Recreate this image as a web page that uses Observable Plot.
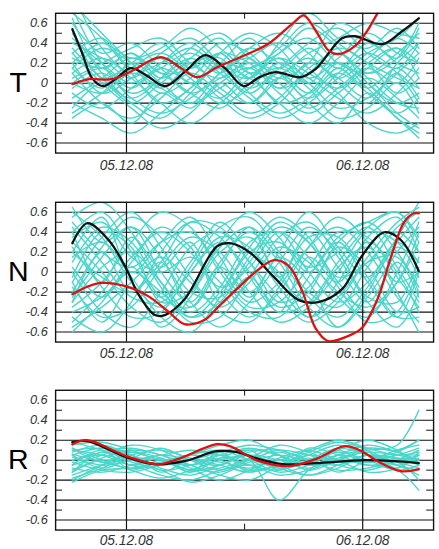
<!DOCTYPE html>
<html><head><meta charset="utf-8">
<script src="https://cdn.jsdelivr.net/npm/d3@7"></script>
<script src="https://cdn.jsdelivr.net/npm/@observablehq/plot@0.6"></script>
<style>
html,body{margin:0;padding:0;background:#fff;overflow:hidden;width:439px;height:549px;}
.panel{position:absolute;left:0;}
</style></head><body>
<div id="pT" class="panel" style="top:0px"></div>
<div id="pN" class="panel" style="top:189px"></div>
<div id="pR" class="panel" style="top:377px"></div>
<script>
// ---- data ----
const panelNames = ["T", "N", "R"];
const dateTicks = ["05.12.08", "06.12.08"];     // day ticks (hours 0 and 24)
const yTicks = [-0.6, -0.4, -0.2, 0, 0.2, 0.4, 0.6];
const yMinor = [-0.5, -0.3, -0.1, 0.1, 0.3, 0.5];
const xMinorHours = [12];
// ensemble sample times, hours after 05.12.08 00:00
const ensHours = [-5.5, -2.5, 0.5, 3.5, 6.5, 9.5, 12.5, 15.5, 18.5, 21.5, 24.5, 27.5, 29.7];

const ensT = [
  [0.9,0.35,0.1,0.2,0.35,0.15,0.05,0.3,0.45,0.2,0.1,0.3,0.5],
  [0.8,0.5,0.2,-0.1,0.05,0.3,0.2,-0.05,0.1,0.35,0.2,-0.1,0.05],
  [0.75,0.2,-0.1,0.05,0.25,0.1,0.35,0.5,0.3,0.05,0.25,0.45,0.3],
  [0.6,0.3,0.4,0.15,-0.1,0.05,0.2,0.1,-0.15,0.1,0.3,0.1,-0.2],
  [0.5,0.1,-0.2,-0.35,-0.1,0.2,0.1,-0.2,-0.1,0.2,0.0,-0.3,-0.45],
  [0.4,0.25,0.05,0.3,0.45,0.2,-0.05,0.15,0.4,0.55,0.3,0.15,0.4],
  [0.3,0.0,-0.25,-0.45,-0.3,0.0,0.15,-0.1,-0.3,-0.1,0.15,0.35,0.2],
  [0.25,0.15,0.3,0.1,0.15,0.4,0.3,0.05,0.2,0.6,0.45,0.2,0.1],
  [0.2,-0.1,0.05,0.25,0.05,-0.2,-0.05,0.2,0.05,-0.15,-0.3,-0.1,0.15],
  [0.15,0.35,0.2,-0.05,0.2,0.25,-0.1,-0.3,-0.15,0.1,-0.1,-0.35,-0.55],
  [0.1,-0.2,-0.35,-0.15,0.1,-0.1,-0.3,-0.15,0.15,0.3,0.1,0.25,0.6],
  [0.05,0.2,0.35,0.45,0.2,0.05,0.25,0.4,0.15,-0.05,0.2,0.35,0.05],
  [0.0,-0.1,0.1,-0.05,-0.2,-0.05,0.15,0.3,0.55,0.35,0.0,-0.2,-0.1],
  [-0.05,0.1,-0.15,-0.3,-0.15,0.1,0.35,0.2,0.0,-0.25,-0.15,0.1,0.3],
  [-0.1,-0.25,-0.05,0.15,0.3,0.1,-0.15,-0.35,-0.2,0.05,0.3,0.45,0.65],
  [-0.15,0.05,0.25,0.1,-0.1,-0.25,0.0,0.15,-0.05,-0.35,-0.25,0.0,-0.3],
  [-0.2,-0.35,-0.5,-0.3,-0.05,0.15,0.05,-0.2,-0.4,-0.2,0.05,-0.15,-0.35],
  [-0.3,-0.1,0.15,0.3,0.1,-0.15,-0.35,-0.2,0.1,0.2,-0.05,-0.3,-0.15],
  [0.7,0.45,0.1,-0.2,-0.05,0.3,0.5,0.35,0.05,0.25,0.5,0.3,0.2],
  [0.35,0.05,-0.15,0.05,0.35,0.5,0.25,0.1,0.3,0.45,0.6,0.5,0.45],
  [0.1,0.25,0.05,-0.2,-0.4,-0.2,0.05,0.25,0.1,-0.1,-0.4,-0.5,-0.4],
  [0.45,0.2,0.0,0.15,0.0,-0.15,0.1,0.0,-0.25,-0.05,0.15,0.0,0.25],
  [0.2,0.4,0.25,0.35,0.55,0.35,0.15,0.35,0.6,0.4,0.2,0.05,-0.05],
  [-0.25,0.0,-0.2,0.0,0.2,-0.05,-0.2,0.05,0.25,0.0,-0.2,0.2,0.4],
  [0.65,0.15,0.3,0.05,0.25,0.45,0.1,0.25,0.0,0.3,0.05,-0.2,-0.25],
  [0.3,0.45,0.15,0.25,0.0,0.2,0.45,0.15,0.35,0.15,0.4,0.25,0.55],
  [0.0,0.15,-0.05,0.2,0.4,0.15,-0.1,0.1,-0.1,0.15,-0.05,0.15,-0.05],
  [-0.35,-0.2,-0.4,-0.1,-0.25,0.0,-0.2,0.05,-0.2,-0.4,-0.1,-0.35,-0.5],
  [0.55,0.05,0.2,0.4,0.15,0.3,0.05,0.4,0.7,0.45,0.35,0.55,0.35],
  [0.15,-0.05,0.2,0.0,-0.2,0.1,0.25,-0.05,0.2,0.05,-0.15,0.1,-0.15]
];
const ensN = [
  [0.55,0.7,0.4,-0.1,-0.45,-0.3,0.1,0.45,0.3,-0.1,-0.4,-0.1,0.4],
  [-0.45,-0.6,-0.3,0.2,0.5,0.35,-0.05,-0.4,-0.3,0.1,0.45,0.6,0.3],
  [0.3,0.0,-0.35,-0.5,-0.2,0.25,0.45,0.15,-0.25,-0.45,-0.15,0.3,0.55],
  [-0.2,0.25,0.55,0.35,-0.05,-0.4,-0.5,-0.15,0.25,0.45,0.2,-0.25,-0.5],
  [0.1,0.45,0.3,-0.15,-0.5,-0.45,-0.05,0.35,0.5,0.15,-0.3,-0.55,-0.2],
  [-0.35,-0.1,0.3,0.6,0.45,0.0,-0.35,-0.3,0.05,0.4,0.35,-0.05,-0.35],
  [0.45,0.1,-0.25,-0.3,0.0,0.35,0.25,-0.15,-0.45,-0.25,0.15,0.5,0.65],
  [0.0,-0.4,-0.55,-0.2,0.25,0.4,0.1,-0.3,-0.15,0.3,0.5,0.2,-0.15],
  [-0.1,0.35,0.6,0.25,-0.2,-0.25,0.15,0.5,0.3,-0.15,-0.5,-0.4,0.05],
  [0.25,-0.15,-0.45,-0.4,0.05,0.45,0.55,0.2,-0.2,-0.35,0.05,0.4,0.2],
  [-0.3,0.05,0.2,-0.1,-0.4,-0.15,0.3,0.4,0.0,-0.3,-0.1,0.35,0.7],
  [0.4,0.6,0.2,-0.25,-0.35,0.1,0.4,0.1,-0.35,-0.55,-0.2,0.25,0.1],
  [-0.5,-0.2,0.15,0.4,0.2,-0.2,-0.45,-0.2,0.25,0.55,0.3,-0.2,-0.6],
  [0.15,0.3,-0.05,-0.45,-0.6,-0.25,0.2,0.3,0.05,0.2,0.45,0.05,-0.3],
  [-0.15,-0.45,-0.35,0.05,0.35,0.2,-0.2,-0.5,-0.35,0.05,0.25,-0.1,0.0],
  [0.5,0.2,0.05,0.3,0.4,0.05,-0.3,-0.1,0.35,0.35,-0.05,-0.45,-0.45],
  [0.05,-0.25,0.1,0.45,0.25,-0.15,0.05,0.4,0.15,-0.25,-0.45,0.0,0.5],
  [-0.25,0.15,0.45,0.15,-0.3,-0.55,-0.3,0.1,0.45,0.2,-0.25,-0.3,0.15],
  [0.35,0.5,0.15,0.0,0.15,-0.1,-0.4,-0.45,-0.05,0.35,0.5,0.6,0.35],
  [-0.4,-0.25,0.0,-0.2,-0.45,-0.2,0.25,0.55,0.35,-0.05,0.1,0.45,0.6],
  [0.2,-0.05,-0.2,0.1,0.5,0.45,0.1,-0.25,-0.5,-0.3,0.1,0.15,-0.2],
  [-0.05,0.4,0.25,-0.3,-0.2,0.2,0.35,-0.05,-0.3,0.0,0.4,0.3,-0.05],
  [0.6,0.35,-0.1,-0.35,0.0,0.3,0.0,-0.35,-0.2,0.25,0.05,-0.4,-0.35],
  [-0.55,-0.35,-0.1,0.15,-0.1,-0.35,-0.1,0.25,0.1,-0.2,-0.35,-0.1,0.3],
  [0.65,0.3,0.45,0.0,-0.3,0.05,-0.2,0.2,0.6,0.25,-0.05,0.3,0.1],
  [-0.6,-0.3,0.05,-0.25,0.1,0.5,0.2,0.0,-0.45,-0.1,0.3,0.0,-0.4],
  [0.2,0.55,0.0,0.3,0.55,0.15,-0.25,0.15,-0.1,-0.55,-0.25,0.2,0.45],
  [-0.1,-0.5,-0.15,-0.55,-0.25,0.3,0.6,0.35,0.0,0.3,-0.1,-0.45,0.0],
  [0.4,-0.1,0.35,0.05,0.3,-0.3,-0.05,-0.4,0.15,-0.1,0.35,0.55,0.2],
  [-0.3,0.2,-0.2,0.1,-0.35,0.05,0.45,-0.05,0.4,0.05,-0.3,0.1,-0.25]
];
const ensR = [
  [0.15,0.18,0.1,0.0,-0.05,0.05,0.12,0.05,-0.05,0.02,0.08,0.05,0.0],
  [-0.2,-0.05,0.08,0.02,-0.1,-0.05,0.05,0.0,-0.08,0.05,0.1,0.15,0.5],
  [0.05,0.12,0.05,-0.08,-0.15,-0.05,0.08,0.1,0.0,-0.05,0.05,0.02,-0.05],
  [-0.1,0.0,-0.05,-0.15,-0.2,-0.1,-0.05,-0.15,-0.1,0.0,-0.05,-0.1,-0.3],
  [0.1,0.05,-0.05,-0.05,0.05,0.15,0.2,0.05,-0.1,0.0,0.12,0.1,0.2],
  [0.0,0.08,0.12,0.05,-0.05,-0.15,-0.2,-0.05,0.08,0.18,0.1,-0.05,-0.1],
  [-0.15,-0.05,0.02,0.0,-0.05,0.02,0.0,-0.4,-0.1,0.05,0.0,0.05,0.05],
  [0.08,0.15,0.05,-0.1,-0.05,0.05,-0.05,-0.1,0.0,0.12,0.05,-0.05,0.02],
  [-0.05,0.05,0.15,0.1,-0.05,-0.12,0.0,0.1,0.05,-0.05,-0.1,0.0,0.1],
  [0.12,0.0,-0.1,-0.18,-0.1,0.0,0.05,-0.05,-0.15,-0.05,0.05,-0.05,-0.15],
  [-0.22,-0.1,-0.08,-0.02,0.05,0.0,-0.1,-0.05,0.05,0.15,0.05,0.0,0.05],
  [0.03,-0.05,0.0,0.05,0.1,0.05,-0.05,0.0,0.1,0.2,0.12,0.05,0.08],
  [0.18,0.1,0.0,-0.05,0.0,0.08,0.15,0.1,0.0,-0.1,-0.08,0.0,-0.02],
  [-0.08,-0.12,-0.05,0.05,0.0,-0.05,0.1,0.05,-0.05,0.05,0.15,0.08,0.0],
  [0.0,0.05,-0.02,-0.1,-0.22,-0.15,-0.02,0.05,0.0,0.08,0.0,-0.1,-0.05],
  [-0.12,0.02,0.1,0.05,-0.08,-0.2,-0.1,0.02,0.1,0.0,-0.12,-0.08,0.05],
  [0.06,-0.02,-0.08,-0.05,0.05,0.1,0.0,-0.12,-0.05,0.1,0.2,0.1,-0.05],
  [-0.18,-0.08,0.05,0.1,0.02,-0.05,-0.12,-0.05,0.05,0.0,-0.02,0.05,0.12],
  [0.1,0.12,0.08,0.0,-0.1,-0.08,0.02,0.15,0.08,-0.02,0.0,0.1,0.15],
  [-0.02,-0.1,-0.12,-0.05,0.0,0.1,0.05,-0.08,-0.15,-0.08,0.05,-0.02,-0.08],
  [0.05,-0.08,0.02,0.12,0.0,-0.1,0.0,-0.08,0.02,-0.12,0.0,0.08,0.2],
  [-0.12,0.08,-0.05,0.02,-0.12,0.02,0.1,-0.1,0.12,0.05,-0.05,-0.02,-0.2],
  [0.12,-0.02,0.05,-0.12,0.0,-0.02,-0.08,0.0,-0.02,0.1,-0.02,0.02,0.0],
  [-0.05,0.1,-0.1,0.0,-0.12,0.08,-0.12,0.08,-0.05,0.0,0.08,-0.08,0.08]
];

// [hour, value]
const blackT = [[-5.5,0.54],[-4.5,0.3],[-3.5,0.05],[-2.4,-0.03],[-1,0.05],[0.4,0.15],[2,0.08],[3.9,-0.03],[6,0.12],[8,0.28],[10,0.15],[11.9,-0.03],[13.5,0.06],[15.2,0.11],[17.7,0.06],[19.2,0.14],[21.9,0.45],[23.2,0.47],[26,0.39],[28,0.52],[29.7,0.65]];
const redT = [[-5.5,-0.01],[-3.8,0.04],[-1.5,0.04],[0.5,0.12],[3.5,0.26],[5.4,0.16],[7.2,0.06],[9.2,0.16],[12.5,0.3],[14.5,0.4],[16.9,0.6],[18,0.68],[19.2,0.53],[20.5,0.33],[21.5,0.29],[23.2,0.37],[24.5,0.53],[25.5,0.7],[27.5,1.0],[29.7,1.3]];
const blackN = [[-5.5,0.29],[-4,0.49],[-1.8,0.32],[0,0.03],[1.2,-0.22],[2.9,-0.43],[3.9,-0.43],[5.9,-0.27],[9.2,0.26],[10.5,0.29],[12.5,0.2],[14.9,-0.04],[17.5,-0.28],[19.5,-0.3],[21.9,-0.17],[23.9,0.16],[26.2,0.4],[27.9,0.32],[29.7,0.01]];
const redN = [[-5.5,-0.22],[-2.8,-0.11],[-0.1,-0.14],[2.2,-0.24],[4.2,-0.39],[5.9,-0.52],[7.9,-0.48],[9.2,-0.36],[11.2,-0.17],[13.2,0.01],[15,0.12],[16.5,0.06],[17.9,-0.2],[19.2,-0.56],[20.5,-0.69],[22.5,-0.64],[23.9,-0.56],[25.5,-0.27],[26.9,0.16],[28.2,0.5],[29.2,0.59],[29.7,0.59]];
const blackR = [[-5.5,0.18],[-4,0.19],[0,0.03],[2.9,-0.04],[5.9,-0.01],[9.2,0.09],[11.2,0.08],[13.5,0.01],[15.9,-0.04],[19.2,-0.03],[24.2,0.0],[27.2,-0.01],[29.7,-0.03]];
const redR = [[-5.5,0.16],[-4,0.2],[0,0.04],[3.2,-0.04],[5.2,0.01],[9.2,0.16],[10.5,0.14],[13.5,-0.01],[16.5,-0.06],[19.2,0.01],[22.2,0.14],[23.9,0.09],[25.5,-0.01],[27.9,-0.11],[29.7,-0.09]];

// ---- drawing ----
const T0 = Date.UTC(2008, 11, 5);
const at = h => new Date(T0 + h * 3600e3);
const CYAN = "#4ad6ca";
const W = 446, MT = 13, PH = 142, MB = 30, ML = 56, MR = 6;
const PW = W - ML - MR;
const fmtY = d => d === 0 ? "0" : d.toFixed(1);

function panel(id, name, ens, black, red, labelPad) {
  const ensRows = ens.flatMap((vals, i) => vals.map((v, j) => ({t: at(ensHours[j]), v, id: i})));
  const toRows = arr => arr.map(([h, v]) => ({t: at(h), v}));
  const chart = Plot.plot({
    width: W, height: MT + PH + MB,
    marginTop: MT, marginBottom: MB, marginLeft: ML, marginRight: MR,
    style: {fontFamily: "'Liberation Sans', Arial, sans-serif", background: "transparent", overflow: "visible"},
    x: {type: "utc", domain: [at(-7.2), at(31.2)]},
    y: {domain: [-0.7, 0.7]},
    marks: [
      Plot.ruleY(yTicks, {stroke: "#111", strokeWidth: 1.1}),
      Plot.tickY(yMinor, {y: d => d, stroke: "#111", strokeWidth: 1, insetRight: PW - 7}),
      Plot.tickY(yMinor, {y: d => d, stroke: "#111", strokeWidth: 1, insetLeft: PW - 7}),
      Plot.tickX(xMinorHours.map(at), {x: d => d, stroke: "#111", strokeWidth: 1, insetBottom: PH - 6}),
      Plot.tickX(xMinorHours.map(at), {x: d => d, stroke: "#111", strokeWidth: 1, insetTop: PH - 6}),
      Plot.line(ensRows, {x: "t", y: "v", z: "id", stroke: CYAN, strokeWidth: 1.4, curve: "catmull-rom", clip: true}),
      Plot.ruleX([0, 24].map(at), {stroke: "#111", strokeWidth: 1.2}),
      Plot.line(toRows(black), {x: "t", y: "v", stroke: "#111", strokeWidth: 2.3, curve: "catmull-rom", clip: true}),
      Plot.line(toRows(red), {x: "t", y: "v", stroke: "#e01010", strokeWidth: 2.3, curve: "catmull-rom", clip: true}),
      Plot.frame({stroke: "#111", strokeWidth: 1.4}),
      Plot.axisY(yTicks, {tickSize: 0, tickPadding: 8, tickFormat: fmtY, fontSize: 13, fontStyle: "italic", fill: "#333", label: null}),
      Plot.axisX([0, 24].map(at), {tickSize: 0, tickPadding: labelPad, tickFormat: (d) => dateTicks[Math.round((d - T0) / 864e5)], fontSize: 14, fontStyle: "italic", fill: "#333", label: null}),
      Plot.text([0], {y: d => d, frameAnchor: "left", dx: -38, text: () => name, textAnchor: "middle", lineAnchor: "middle", fontSize: 29, fill: "#000", fontFamily: "'Liberation Sans', Arial, sans-serif"})
    ]
  });
  document.getElementById(id).appendChild(chart);
}

panel("pT", panelNames[0], ensT, blackT, redT, 7);
panel("pN", panelNames[1], ensN, blackN, redN, 6);
panel("pR", panelNames[2], ensR, blackR, redR, 5);
</script>
</body></html>
